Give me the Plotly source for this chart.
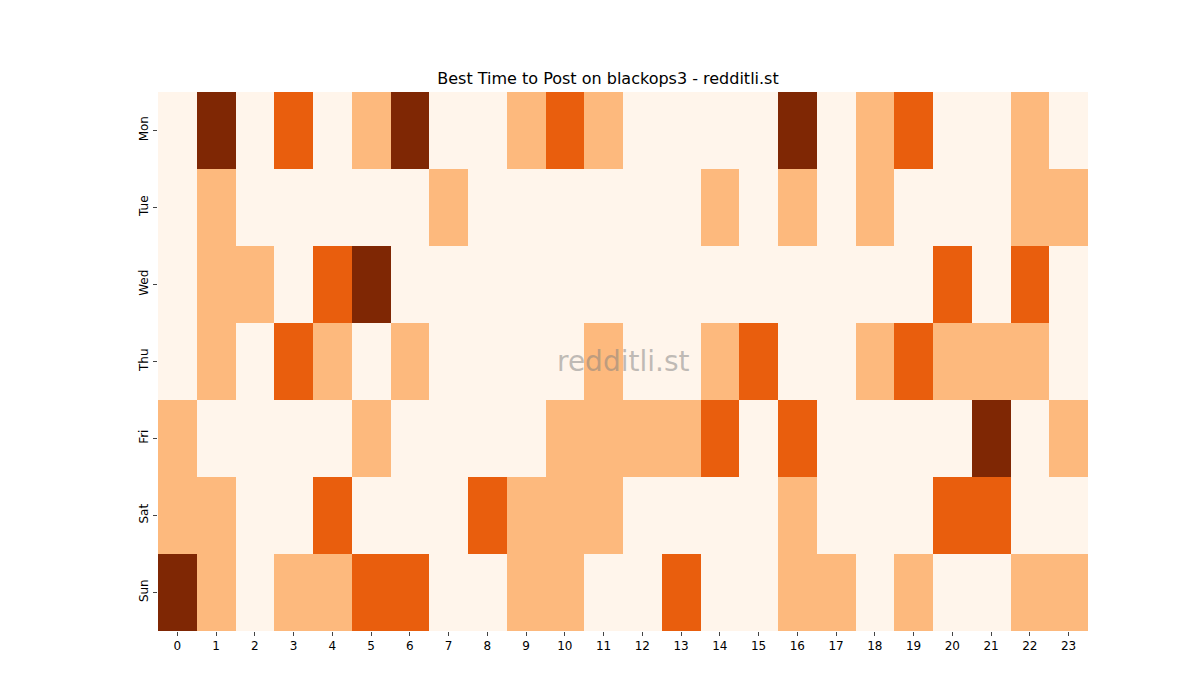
import plotly.graph_objects as go

days = ["Mon", "Tue", "Wed", "Thu", "Fri", "Sat", "Sun"]
hours = [str(h) for h in range(24)]
mon = [0,3,0,2,0,1,3,0,0,1,2,1,0,0,0,0,3,0,1,2,0,0,1,0]
tue = [0,1,0,0,0,0,0,1,0,0,0,0,0,0,1,0,1,0,1,0,0,0,1,1]
wed = [0,1,1,0,2,3,0,0,0,0,0,0,0,0,0,0,0,0,0,0,2,0,2,0]
thu = [0,1,0,2,1,0,1,0,0,0,0,1,0,0,1,2,0,0,1,2,1,1,1,0]
fri = [1,0,0,0,0,1,0,0,0,0,1,1,1,1,2,0,2,0,0,0,0,3,0,1]
sat = [1,1,0,0,2,0,0,0,2,1,1,1,0,0,0,0,1,0,0,0,2,2,0,0]
sun = [3,1,0,1,1,2,2,0,0,1,1,0,0,2,0,0,1,1,0,1,0,0,1,1]
z = [mon, tue, wed, thu, fri, sat, sun]

cols = ["#fff5eb", "#fdb97d", "#e95e0d", "#7f2704"]
cs = []
for i, c in enumerate(cols):
    cs.append([i/4, c]); cs.append([(i+1)/4, c])

fig = go.Figure(go.Heatmap(z=z, x=hours, y=days, colorscale=cs, zmin=-0.5, zmax=3.5,
                           showscale=False, xgap=0, ygap=0))
fig.update_layout(
    width=1200, height=700, paper_bgcolor="white", plot_bgcolor="white",
    margin=dict(l=150, r=120, t=84, b=77),
    title=dict(text="Best Time to Post on blackops3 - redditli.st", x=0.5, xanchor="center",
               y=1-70/700, yanchor="middle", font=dict(family="DejaVu Sans", size=16, color="black")),
    font=dict(family="DejaVu Sans", size=12, color="black"),
    xaxis=dict(ticks="outside", ticklen=4, showgrid=False, zeroline=False, tickangle=0),
    yaxis=dict(autorange="reversed", ticks="outside", ticklen=4, showgrid=False, zeroline=False, tickangle=-90),
    annotations=[dict(text="redditli.st", x=0.5, y=0.5, xref="paper", yref="paper",
                      showarrow=False, font=dict(size=28, color="rgba(128,128,128,0.5)"))],
)
fig.write_html("out.html")
